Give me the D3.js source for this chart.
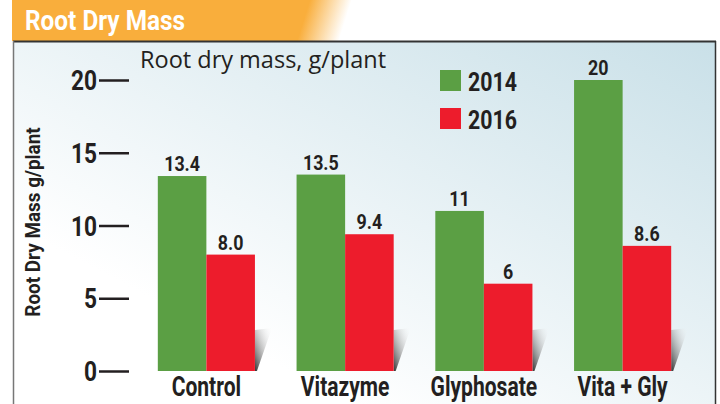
<!DOCTYPE html>
<html><head><meta charset="utf-8">
<script src="https://cdn.jsdelivr.net/npm/d3@7"></script>
<style>
body{margin:0;background:#fff;}
svg{display:block;}
.cond{font-family:Roboto,"DejaVu Sans Condensed",sans-serif;font-weight:700;}
</style></head>
<body>
<svg id="chart" width="720" height="404"></svg>
<script>
const categories = ["Control", "Vitazyme", "Glyphosate", "Vita + Gly"];
const series = ["2014", "2016"];
const values2014 = [13.4, 13.5, 11, 20];
const values2016 = [8.0, 9.4, 6, 8.6];
const labels2014 = ["13.4", "13.5", "11", "20"];
const labels2016 = ["8.0", "9.4", "6", "8.6"];
const yTicks = [0, 5, 10, 15, 20];
const colors = ["#5b9f44", "#ed1c2c"];

const svg = d3.select("#chart");
const defs = svg.append("defs");

// helper: condensed text drawn at (x,y) with horizontal squeeze
function condText(parent, x, y, txt, size, sx, anchor) {
  return parent.append("text").attr("class","cond")
    .attr("transform", `translate(${x},${y}) scale(${sx},1)`)
    .attr("font-size", size).attr("text-anchor", anchor || "start")
    .attr("fill", "#231f20").text(txt);
}

// banner gradient
const bg = defs.append("linearGradient").attr("id","banner").attr("gradientUnits","userSpaceOnUse")
  .attr("x1",310).attr("y1",0).attr("x2",348).attr("y2",12);
bg.append("stop").attr("offset","0").attr("stop-color","#f9ae3c");
bg.append("stop").attr("offset","1").attr("stop-color","#ffffff");

// panel gradient
const pg = defs.append("linearGradient").attr("id","panel").attr("x1","0").attr("y1","1").attr("x2","1").attr("y2","0");
pg.append("stop").attr("offset","0.25").attr("stop-color","#ffffff");
pg.append("stop").attr("offset","1").attr("stop-color","#c9e0e8");

// shadow gradient
const sg = defs.append("linearGradient").attr("id","shadow").attr("x1","1").attr("y1","0").attr("x2","0").attr("y2","1");
sg.append("stop").attr("offset","0").attr("stop-color","#ffffff").attr("stop-opacity",0);
sg.append("stop").attr("offset","1").attr("stop-color","#333333");

// banner
svg.append("rect").attr("x",12).attr("y",0).attr("width",400).attr("height",41).attr("fill","url(#banner)");
condText(svg, 25, 30, "Root Dry Mass", 28, 0.87).attr("fill","#fff");

// panel
svg.append("rect").attr("x",13).attr("y",41).attr("width",703).attr("height",370)
  .attr("fill","url(#panel)");
svg.append("line").attr("x1",13).attr("x2",716).attr("y1",41.5).attr("y2",41.5).attr("stroke","#333").attr("stroke-width",2);
svg.append("line").attr("x1",13.5).attr("x2",13.5).attr("y1",41).attr("y2",404).attr("stroke","#777").attr("stroke-width",1.5);
svg.append("line").attr("x1",715.5).attr("x2",715.5).attr("y1",41).attr("y2",404).attr("stroke","#333").attr("stroke-width",1.5);

const y = d3.scaleLinear().domain([0,20]).range([371,80]);
const x0 = d3.scaleBand().domain(categories).range([137,692]).paddingInner(0.3).paddingOuter(0.15);
const x1 = d3.scaleBand().domain(series).range([0,x0.bandwidth()]);

// y axis ticks
const tickSx = 0.84, tickSize = 30, tickPad = 2;
const yAxis = d3.axisLeft(y).tickValues(yTicks).tickSize(tickSize).tickPadding(tickPad).tickFormat(d3.format("d"));
const ga = svg.append("g").attr("transform","translate(129,0)").call(yAxis);
ga.select(".domain").remove();
ga.selectAll(".tick line").attr("stroke","#231f20").attr("stroke-width",2.5);
ga.selectAll(".tick text").attr("class","cond").attr("font-size",27).attr("fill","#231f20")
  .attr("dy","0.36em").attr("x", -(tickSize+tickPad)/tickSx).attr("transform",`scale(${tickSx},1)`);

// y title
svg.append("text").attr("class","cond").attr("transform","translate(40,222) rotate(-90) scale(0.9,1)")
  .attr("text-anchor","middle").attr("font-size",21).attr("fill","#231f20").text("Root Dry Mass g/plant");

// subtitle
svg.append("text").attr("x",140).attr("y",68).attr("font-family","'Open Sans',sans-serif")
  .attr("font-size",23.5).attr("fill","#231f20").text("Root dry mass, g/plant");

// shadows
const shadowH = 43, shadowW = 17;
svg.append("g").selectAll("polygon").data(categories).join("polygon")
  .attr("points", c => {
    const xr = x0(c) + x1("2016") + x1.bandwidth();
    const yb = y(0), yt = y(0) - shadowH;
    return [[xr,yt+2],[xr+shadowW,yt],[xr+2,yb],[xr,yb]].map(p=>p.join(",")).join(" ");
  })
  .attr("fill","url(#shadow)");

// bars
const data = [];
categories.forEach((c,i)=>{
  data.push({c, s:"2014", v:values2014[i], l:labels2014[i]});
  data.push({c, s:"2016", v:values2016[i], l:labels2016[i]});
});
const color = d3.scaleOrdinal().domain(series).range(colors);
svg.append("g").selectAll("rect").data(data).join("rect")
  .attr("x", d=>x0(d.c)+x1(d.s)).attr("width", x1.bandwidth())
  .attr("y", d=>y(d.v)).attr("height", d=>y(0)-y(d.v)).attr("fill", d=>color(d.s));
const vl = svg.append("g");
data.forEach(d => condText(vl, x0(d.c)+x1(d.s)+x1.bandwidth()/2, y(d.v)-5, d.l, 21, 0.85, "middle"));

// category labels
const cl = svg.append("g");
categories.forEach(c => condText(cl, x0(c)+x0.bandwidth()/2, 396, c, 27, 0.78, "middle"));

// legend
const lg = svg.append("g");
series.forEach((s,i)=>{
  lg.append("rect").attr("x",440).attr("y",70+i*38).attr("width",21).attr("height",21).attr("fill",colors[i]);
  condText(lg, 468, 91+i*38, s, 26, 0.82);
});
</script>
</body></html>
